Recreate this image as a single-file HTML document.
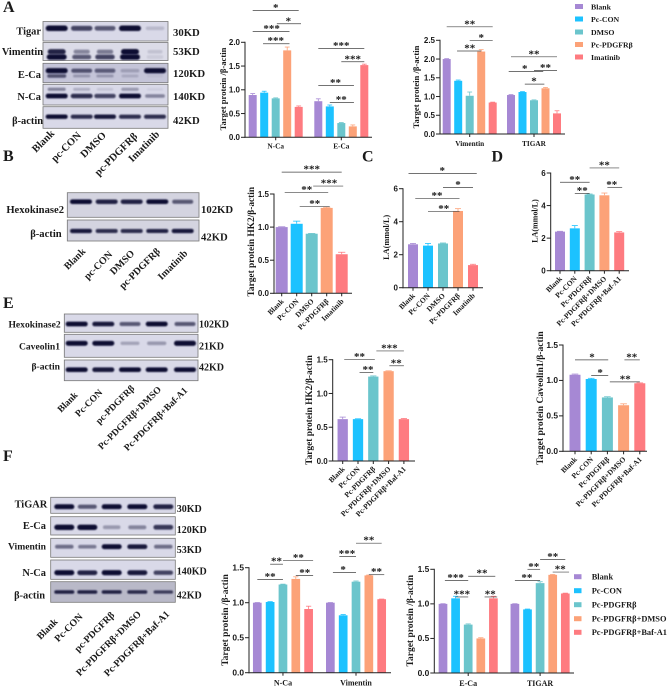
<!DOCTYPE html>
<html lang="en">
<head>
<meta charset="utf-8">
<title>Western blot and bar chart figure</title>
<style>
html,body{margin:0;padding:0;background:#fff;width:669px;height:687px;overflow:hidden}
svg{display:block;filter:blur(0.3px)}
text{font-family:"Liberation Serif","Noto Serif CJK SC",serif;font-weight:bold;fill:#1a1a1a}
.tick{font-family:"Liberation Sans",sans-serif}
</style>
</head>
<body>
<svg id="figure" xmlns="http://www.w3.org/2000/svg" width="669" height="687" viewBox="0 0 669 687">
<defs>
<filter id="soft" x="-20%" y="-80%" width="140%" height="260%"><feGaussianBlur stdDeviation="0.7"/></filter>
</defs>
</svg>
<script>
var barColors = ['#a688d4', '#1cc2ff', '#6bc5cc', '#fca278', '#fe7b80'];

// Panel A charts
var a1Groups = ['N-Ca', 'E-Ca'];
var a1Values = [0.89, 0.94, 0.82, 1.83, 0.64, 0.76, 0.65, 0.30, 0.23, 1.52];
var a1Errors = [0.03, 0.03, 0.01, 0.07, 0.02, 0.05, 0.03, 0.01, 0.03, 0.02];
var a1Ticks = [0, 0.5, 1, 1.5, 2];
var a1TickLabels = ['0.0', '0.5', '1.0', '1.5', '2.0'];
var a1Sig = [[0, 4, 2.67, '*', 2], [2.1, 4.2, 2.39, '*', 3.1], [0, 3.2, 2.23, '***', 1.65], [0.9, 3.2, 1.97, '***', 2],
  [5, 9, 1.87, '***', 7], [7, 9, 1.59, '***', 8], [5, 8.1, 1.09, '**', 6.5], [6, 8.1, 0.73, '**', 7]];

var a2Groups = ['Vimentin', 'TIGAR'];
var a2Values = [2.0, 1.42, 1.02, 2.2, 0.84, 1.04, 1.12, 0.9, 1.22, 0.55];
var a2Errors = [0.01, 0.02, 0.1, 0.05, 0.01, 0.01, 0.01, 0.01, 0.02, 0.07];
var a2Ticks = [0, 0.5, 1, 1.5, 2, 2.5];
var a2TickLabels = ['0.0', '0.5', '1.0', '1.5', '2.0', '2.5'];
var a2Sig = [[0, 4, 2.86, '**', 2], [2, 4, 2.5, '*', 3], [0.9, 3, 2.215, '**', 2], [5, 9, 2.06, '**', 7],
  [4.8, 7.8, 1.67, '*', 6.2], [7, 9, 1.69, '**', 8], [6.2, 7.9, 1.33, '*', 7]];

// Panel B chart
var bCategories = ['Blank', 'Pc-CON', 'DMSO', 'Pc-PDGFRβ', 'Imatinib'];
var bValues = [1.0, 1.05, 0.9, 1.29, 0.59];
var bErrors = [0.005, 0.04, 0.005, 0.01, 0.03];
var bTicks = [0, 0.5, 1, 1.5];
var bTickLabels = ['0.0', '0.5', '1.0', '1.5'];
var bSig = [[0, 4, 1.83, '***', 2], [2.1, 4.1, 1.62, '***', 3.15], [0.2, 3.1, 1.52, '**', 1.67], [1.2, 3.2, 1.31, '**', 2.2]];

// Panel C chart
var cCategories = ['Blank', 'Pc-CON', 'DMSO', 'Pc-PDGFRβ', 'Imatinib'];
var cValues = [2.63, 2.55, 2.68, 4.65, 1.37];
var cErrors = [0.05, 0.13, 0.03, 0.14, 0.05];
var cTicks = [0, 2, 4, 6];
var cTickLabels = ['0', '2', '4', '6'];
var cSig = [[-0.3, 4.25, 6.93, '*', 1.95], [2, 4, 6.08, '*', 3], [0.15, 3.1, 5.41, '**', 1.6], [1, 3.1, 4.63, '**', 2.05]];

// Panel D chart
var dCategories = ['Blank', 'Pc-CON', 'Pc-PDGFRβ', 'Pc-PDGFRβ+DMSO', 'Pc-PDGFRβ+Baf-A1'];
var dValues = [2.4, 2.6, 4.68, 4.63, 2.35];
var dErrors = [0.02, 0.17, 0.03, 0.14, 0.05];
var dTicks = [0, 2, 4, 6];
var dTickLabels = ['0', '2', '4', '6'];
var dSig = [[2, 4, 6.31, '**', 3], [0, 2, 5.43, '**', 1], [3.2, 4.2, 5.12, '**', 3.5], [1, 2, 4.75, '**', 1.5]];

// Panel E charts
var e1Categories = ['Blank', 'Pc-CON', 'Pc-PDGFRβ', 'Pc-PDGFRβ+DMSO', 'Pc-PDGFRβ+Baf-A1'];
var e1Values = [0.62, 0.62, 1.25, 1.33, 0.62];
var e1Errors = [0.03, 0.005, 0.01, 0.005, 0.01];
var e1Ticks = [0, 0.5, 1, 1.5];
var e1TickLabels = ['0.0', '0.5', '1.0', '1.5'];
var e1Sig = [[2.2, 4, 1.63, '***', 3.05], [0.1, 2.1, 1.5, '**', 1.1], [1.1, 2, 1.31, '**', 1.65], [3.05, 4, 1.41, '**', 3.5]];

var e2Categories = ['Blank', 'Pc-CON', 'Pc-PDGFRβ', 'Pc-PDGFRβ+DMSO', 'Pc-PDGFRβ+Baf-A1'];
var e2Values = [1.08, 1.02, 0.76, 0.65, 0.96];
var e2Errors = [0.01, 0.01, 0.01, 0.02, 0.005];
var e2Ticks = [0, 0.5, 1, 1.5];
var e2TickLabels = ['0.0', '0.5', '1.0', '1.5'];
var e2Sig = [[0, 2.05, 1.29, '*', 1.05], [3.05, 4, 1.29, '**', 3.5], [1, 2.05, 1.07, '*', 1.55], [2.15, 4, 0.98, '**', 3.1]];

// Panel F charts
var f1Groups = ['N-Ca', 'Vimentin'];
var f1Values = [1.0, 1.01, 1.26, 1.34, 0.91, 1.0, 0.82, 1.3, 1.39, 1.05];
var f1Errors = [0.002, 0.005, 0.005, 0.03, 0.04, 0.002, 0.01, 0.01, 0.005, 0.002];
var f1Ticks = [0, 0.5, 1, 1.5];
var f1TickLabels = ['0.0', '0.5', '1.0', '1.5'];
var f1Sig = [[1, 2, 1.55, '**', 1.5], [2, 4.35, 1.6, '**', 3.2], [0, 2, 1.33, '**', 1], [3, 4.35, 1.39, '**', 3.7],
  [7, 9, 1.85, '**', 8], [5.7, 7, 1.66, '***', 6.3], [5.2, 7, 1.43, '*', 6], [8, 9.2, 1.4, '**', 8.6]];

var f2Groups = ['E-Ca', 'TIGAR'];
var f2Values = [1.0, 1.08, 0.7, 0.5, 1.08, 1.0, 0.92, 1.3, 1.42, 1.15];
var f2Errors = [0.002, 0.03, 0.01, 0.01, 0.03, 0.002, 0.005, 0.02, 0.005, 0.005];
var f2Ticks = [0, 0.5, 1, 1.5];
var f2TickLabels = ['0.0', '0.5', '1.0', '1.5'];
var f2Sig = [[0.15, 2, 1.34, '***', 1], [2, 4.15, 1.4, '**', 3.1], [1, 2, 1.1, '***', 1.5], [3.3, 4.3, 1.1, '**', 3.75],
  [7, 9, 1.64, '**', 8], [6, 7, 1.5, '**', 6.5], [5, 7, 1.34, '**', 5.95], [8, 9.3, 1.46, '**', 8.6]];

var legendALabels = ['Blank', 'Pc-CON', 'DMSO', 'Pc-PDGFRβ', 'Imatinib'];
var legendFLabels = ['Blank', 'Pc-CON', 'Pc-PDGFRβ', 'Pc-PDGFRβ+DMSO', 'Pc-PDGFRβ+Baf-A1'];

var svg = document.getElementById('figure');
var NS = 'http://www.w3.org/2000/svg';

function make(tag, attrs, parent) {
  var el = document.createElementNS(NS, tag);
  for (var k in attrs) el.setAttribute(k, attrs[k]);
  (parent || svg).appendChild(el);
  return el;
}

function label(str, x, y, size, anchor, name, rot, cls, parent) {
  var el = make('text', {x: x, y: y, 'font-size': size, 'text-anchor': anchor || 'start'}, parent);
  if (cls) el.setAttribute('class', cls);
  if (rot) el.setAttribute('transform', 'rotate(' + rot + ' ' + x + ' ' + y + ')');
  el.textContent = str;
  
  
  return el;
}

function chart(c) {
  var g = make('g', {});
  
  
  var top = c.ticks[c.ticks.length - 1];
  function yScale(v) { return c.y0 - (c.y0 - c.yTop) * v / top; }
  function xScale(i) {
    var gap = (c.groupSize && i >= c.groupSize - 0.5) ? c.groupGap : 0;
    return c.first + c.pitch * i + gap;
  }
  c.values.forEach(function (v, i) {
    var cx = xScale(i), col = barColors[i % 5];
    var err = c.errors[i];
    var stem = make('line', {x1: cx, x2: cx, y1: yScale(v), y2: yScale(v + err), stroke: col, 'stroke-width': 0.8}, g);
    
    
    var cap = make('line', {x1: cx - c.barW * 0.3, x2: cx + c.barW * 0.3, y1: yScale(v + err), y2: yScale(v + err), stroke: col, 'stroke-width': 0.8}, g);
    
    
    var bar = make('rect', {x: cx - c.barW / 2, y: yScale(v), width: c.barW, height: c.y0 - yScale(v), fill: col}, g);
    
    
  });
  var yAxis = make('line', {x1: c.axisX, x2: c.axisX, y1: c.yTop - 0.5, y2: c.y0 + 0.5, stroke: '#222', 'stroke-width': 1}, g);
  
  
  var xAxis = make('line', {x1: c.axisX - 0.5, x2: c.axisEnd, y1: c.y0, y2: c.y0, stroke: '#222', 'stroke-width': 1}, g);
  
  
  c.ticks.forEach(function (t, i) {
    var tk = make('line', {x1: c.axisX - 4, x2: c.axisX, y1: yScale(t), y2: yScale(t), stroke: '#222', 'stroke-width': 1}, g);
    
    
    label(c.tickLabels[i], c.axisX - 5, yScale(t) + 2.8, c.tickSize || 8, 'end', 'y-tick-label', null, 'tick', g);
  });
  if (c.groups) {
    c.groups.forEach(function (name, i) {
      var cx = xScale(i * c.groupSize + (c.groupSize - 1) / 2);
      var tk = make('line', {x1: cx, x2: cx, y1: c.y0, y2: c.y0 + 3, stroke: '#222', 'stroke-width': 1}, g);
      
      
      label(name, cx, c.y0 + (c.groupDy || 11), c.groupSize2 || 7.3, 'middle', 'x-group-label', null, null, g);
    });
  } else {
    c.categories.forEach(function (name, i) {
      var cx = xScale(i);
      var tk = make('line', {x1: cx, x2: cx, y1: c.y0, y2: c.y0 + 3, stroke: '#222', 'stroke-width': 1}, g);
      
      
      label(name, cx + 2.5, c.y0 + 8.5, 7.5, 'end', 'x-category-label', -45, null, g);
    });
  }
  c.sig.forEach(function (s) {
    var ly = yScale(s[2]);
    var ln = make('line', {x1: xScale(s[0]), x2: xScale(s[1]), y1: ly, y2: ly, stroke: '#444', 'stroke-width': 0.7}, g);
    
    
    label(s[3], xScale(s[4]), ly + 0.5, 11, 'middle', 'significance-stars', null, null, g);
  });
  label(c.title, c.titleX, c.titleY, c.titleSize || 8.6, 'middle', 'y-axis-title', -90, null, g);
}

function legend(labels, swX, swW, swH, textX, rows, size, name) {
  var g = make('g', {});
  
  
  labels.forEach(function (t, i) {
    var sw = make('rect', {x: swX, y: rows[i] - swH / 2, width: swW, height: swH, fill: barColors[i]}, g);
    
    
    label(t, textX, rows[i] + 2.8, size, 'start', 'legend-entry', null, null, g);
  });
}

function blot(b) {
  var g = make('g', {});
  
  
  var bg = make('rect', {x: b.x, y: b.y, width: b.w, height: b.h, fill: b.bg || '#d9d9e8', stroke: '#777', 'stroke-width': 0.8}, g);
  
  
  b.rows.forEach(function (row) {
    row.s.forEach(function (strength, i) {
      var rw = (row.rx || 11) * (0.75 + 0.25 * Math.min(1, strength + 0.2));
      var rh = (row.ry || 1.9) * (0.7 + 0.5 * strength);
      var band = make('rect', {
        x: b.lanes[i] - rw, y: row.y - rh, width: 2 * rw, height: 2 * rh, rx: rh, ry: rh,
        fill: '#0a0a30', opacity: Math.min(1, strength * 1.05), filter: 'url(#soft)'
      }, g);
      
      
    });
  });
  label(b.label, b.labelX, b.labelY, b.labelSize || 10.4, 'end', 'protein-label', null, null, g);
  label(b.kd, b.kdX, b.kdY, b.kdSize || 10.7, 'start', 'molecular-weight-label', null, null, g);
}

function lanes(names, ends, size, name) {
  var g = make('g', {});
  
  
  names.forEach(function (t, i) {
    label(t, ends[i][0], ends[i][1] + 4, size, 'end', 'lane-label', -45, null, g);
  });
}

// Panel letters
label('A', 3, 12, 16, 'start', 'panel-a-letter');
label('B', 3, 161, 16, 'start', 'panel-b-letter');
label('C', 362, 161.5, 16, 'start', 'panel-c-letter');
label('D', 491.5, 161.5, 16, 'start', 'panel-d-letter');
label('E', 3, 308, 16, 'start', 'panel-e-letter');
label('F', 3, 461, 16, 'start', 'panel-f-letter');

// Blots — panel A
var laneA = [56.7, 81.7, 105, 130, 155];
blot({name: 'blot-a-tigar', x: 43, y: 21.5, w: 125, h: 19.5, lanes: laneA, rows: [{y: 28.3, rx: 11, ry: 2.3, s: [1, 0.7, 0.6, 1, 0.15]}], label: 'Tigar', labelX: 41, labelY: 34.5, kd: '30KD', kdX: 173, kdY: 36});
blot({name: 'blot-a-vimentin', x: 43, y: 42.5, w: 125, h: 18, lanes: laneA, bg: '#dcdce8', rows: [{y: 51.7, rx: 9, ry: 2.3, s: [0.85, 0.4, 0.45, 1, 0.12]}, {y: 57, rx: 10, ry: 2.3, s: [0.95, 0.6, 0.7, 1, 0.08]}], label: 'Vimentin', labelX: 43, labelY: 55, kd: '53KD', kdX: 173, kdY: 55});
blot({name: 'blot-a-e-ca', x: 43, y: 63.3, w: 125, h: 19.4, lanes: laneA, bg: '#c4c4d8', rows: [{y: 70.7, rx: 11, ry: 2.1, s: [1, 0.6, 0.55, 0.2, 1]}, {y: 76, rx: 10, ry: 1.7, s: [0.6, 0.25, 0.25, 0.15, 0.05]}], label: 'E-Ca', labelX: 41, labelY: 78, kd: '120KD', kdX: 173, kdY: 77});
blot({name: 'blot-a-n-ca', x: 43, y: 84.3, w: 125, h: 20.7, lanes: laneA, rows: [{y: 89.3, rx: 10, ry: 1.8, s: [0.4, 0.2, 0.1, 0.3, 0.05]}, {y: 96, rx: 11, ry: 2, s: [1, 0.8, 0.7, 1, 0.4]}], label: 'N-Ca', labelX: 41, labelY: 100, kd: '140KD', kdX: 173, kdY: 100});
blot({name: 'blot-a-actin', x: 43, y: 106.7, w: 125, h: 21.6, lanes: laneA, rows: [{y: 116.7, rx: 11, ry: 1.9, s: [0.95, 0.8, 0.9, 0.8, 0.8]}], label: 'β-actin', labelX: 43, labelY: 124, kd: '42KD', kdX: 173, kdY: 124});
lanes(['Blank', 'pc-CON', 'DMSO', 'pc-PDGFRβ', 'Imatinib'], [[55, 130], [81.7, 132], [106.7, 132], [138, 133], [160, 131]], 10.5, 'lane-labels-a');

// Blots — panel B
var laneB = [81, 106.7, 131.7, 157.3, 182.7];
blot({name: 'blot-b-hexokinase', x: 67.3, y: 192.7, w: 131.7, h: 24.6, lanes: laneB, bg: '#d4d4e0', rows: [{y: 201.7, rx: 11, ry: 2, s: [0.95, 0.85, 0.85, 0.95, 0.6]}], label: 'Hexokinase2', labelX: 64, labelY: 213, labelSize: 10.6, kd: '102KD', kdX: 201, kdY: 213});
blot({name: 'blot-b-actin', x: 67.3, y: 220, w: 131.7, h: 21, lanes: laneB, bg: '#d4d4e0', rows: [{y: 231, rx: 11, ry: 1.8, s: [0.9, 0.8, 0.8, 0.85, 0.9]}], label: 'β-actin', labelX: 61.7, labelY: 237, labelSize: 10.6, kd: '42KD', kdX: 201, kdY: 240.5});
lanes(['Blank', 'pc-CON', 'DMSO', 'pc-PDGFRβ', 'Imatinib'], [[86, 248], [113, 251], [135, 250], [160.7, 248], [188, 250]], 10, 'lane-labels-b');

// Blots — panel E
var laneE = [76.7, 103.3, 130, 156.7, 185];
blot({name: 'blot-e-hexokinase', x: 64.3, y: 314, w: 133.7, h: 18.3, lanes: laneE, rows: [{y: 324, rx: 11, ry: 2, s: [1, 0.9, 0.6, 0.95, 0.6]}], label: 'Hexokinase2', labelX: 60.7, labelY: 327.3, labelSize: 9.6, kd: '102KD', kdX: 199, kdY: 327.7, kdSize: 10});
blot({name: 'blot-e-caveolin', x: 64.3, y: 334.3, w: 133.7, h: 23, lanes: laneE, rows: [{y: 343.3, rx: 11, ry: 2.1, s: [0.95, 0.95, 0.25, 0.3, 1]}], label: 'Caveolin1', labelX: 60, labelY: 349.3, labelSize: 9.6, kd: '21KD', kdX: 199, kdY: 349.3, kdSize: 10});
blot({name: 'blot-e-actin', x: 64.3, y: 360, w: 133.7, h: 20.7, lanes: laneE, rows: [{y: 369.7, rx: 11, ry: 2, s: [0.95, 0.9, 0.95, 0.95, 0.95]}], label: 'β-actin', labelX: 60, labelY: 369.3, labelSize: 9.6, kd: '42KD', kdX: 199, kdY: 370.5, kdSize: 10});
lanes(['Blank', 'Pc-CON', 'pc-PDGFRβ', 'Pc-PDGFRβ+DMSO', 'Pc-PDGFRβ+Baf-A1'], [[78.3, 391.7], [103, 389], [135, 385], [161.7, 386], [188, 387]], 9.5, 'lane-labels-e');

// Blots — panel F
var laneF = [64.3, 87.3, 111.7, 137.3, 163.3];
blot({name: 'blot-f-tigar', x: 50.7, y: 497.3, w: 124.6, h: 16, lanes: laneF, rows: [{y: 506.7, rx: 10, ry: 2.1, s: [0.95, 0.6, 0.95, 0.95, 0.85]}], label: 'TiGAR', labelX: 47.3, labelY: 507.5, kd: '30KD', kdX: 176.7, kdY: 512, kdSize: 10});
blot({name: 'blot-f-e-ca', x: 50.7, y: 516.7, w: 124.6, h: 18.3, lanes: laneF, rows: [{y: 527.3, rx: 10, ry: 2.2, s: [1, 1, 0.3, 0.4, 0.75]}], label: 'E-Ca', labelX: 46, labelY: 529.2, kd: '120KD', kdX: 176.7, kdY: 533, kdSize: 10});
blot({name: 'blot-f-vimentin', x: 50.7, y: 538.3, w: 124.6, h: 19, lanes: laneF, rows: [{y: 546.7, rx: 10, ry: 2, s: [0.5, 0.45, 1, 0.9, 0.5]}], label: 'Vimentin', labelX: 46, labelY: 549.5, labelSize: 9.6, kd: '53KD', kdX: 176.7, kdY: 553, kdSize: 10});
blot({name: 'blot-f-n-ca', x: 50.7, y: 560, w: 124.6, h: 19.3, lanes: laneF, rows: [{y: 572.7, rx: 10, ry: 2.1, s: [1, 0.85, 1, 0.9, 0.7]}], label: 'N-Ca', labelX: 46, labelY: 575.8, kd: '140KD', kdX: 176.7, kdY: 574.3, kdSize: 10});
blot({name: 'blot-f-actin', x: 50.7, y: 581.7, w: 124.6, h: 20.6, lanes: laneF, bg: '#b9b9c8', rows: [{y: 592, rx: 10, ry: 1.6, s: [0.85, 0.85, 0.85, 0.8, 0.7]}], label: 'β-actin', labelX: 45, labelY: 598.5, kd: '42KD', kdX: 176.7, kdY: 598.3, kdSize: 10});
lanes(['Blank', 'Pc-CON', 'pc-PDGFRβ', 'Pc-PDGFRβ+DMSO', 'Pc-PDGFRβ+Baf-A1'], [[58.3, 618.3], [83.3, 613.3], [115, 611.7], [141.7, 610.7], [170, 610.7]], 9.8, 'lane-labels-f');

// Charts
chart({name: 'chart-a-nca-eca', values: a1Values, errors: a1Errors, groups: a1Groups, groupSize: 5, groupGap: 8.1, first: 252.7, pitch: 11.5, barW: 8, y0: 137.3, yTop: 42.3, axisX: 245, axisEnd: 372, ticks: a1Ticks, tickLabels: a1TickLabels, sig: a1Sig, title: 'Target protein /β-actin', titleX: 226, titleY: 89});
chart({name: 'chart-a-vimentin-tigar', values: a2Values, errors: a2Errors, groups: a2Groups, groupSize: 5, groupGap: 6.8, first: 446.7, pitch: 11.5, barW: 8, y0: 134, yTop: 40.3, axisX: 440, axisEnd: 565, groupDy: 12, ticks: a2Ticks, tickLabels: a2TickLabels, sig: a2Sig, title: 'Target protein /β-actin', titleX: 419, titleY: 87});
chart({name: 'chart-b-hk2', values: bValues, errors: bErrors, categories: bCategories, first: 281.7, pitch: 15, barW: 12, y0: 293.3, yTop: 194, axisX: 274, axisEnd: 352, ticks: bTicks, tickLabels: bTickLabels, sig: bSig, title: 'Target protein HK2/β-actin', titleX: 254, titleY: 241.7, titleSize: 9.4});
chart({name: 'chart-c-la', values: cValues, errors: cErrors, categories: cCategories, first: 413, pitch: 15, barW: 10, y0: 287.7, yTop: 188.7, axisX: 403, axisEnd: 483, ticks: cTicks, tickLabels: cTickLabels, sig: cSig, title: 'LA(mmol/L)', titleX: 389, titleY: 237.3, titleSize: 8.3});
chart({name: 'chart-d-la', values: dValues, errors: dErrors, categories: dCategories, first: 560, pitch: 14.8, barW: 10, y0: 270.7, yTop: 173, axisX: 550.7, axisEnd: 629, ticks: dTicks, tickLabels: dTickLabels, sig: dSig, title: 'LA(mmol/L)', titleX: 537.5, titleY: 221, titleSize: 8});
chart({name: 'chart-e-hk2', values: e1Values, errors: e1Errors, categories: e1Categories, first: 342.7, pitch: 15.3, barW: 10.3, y0: 461, yTop: 359.7, axisX: 332.7, axisEnd: 415, ticks: e1Ticks, tickLabels: e1TickLabels, sig: e1Sig, title: 'Target protein HK2/β-actin', titleX: 312, titleY: 410, titleSize: 9.4});
chart({name: 'chart-e-caveolin', values: e2Values, errors: e2Errors, categories: e2Categories, first: 575, pitch: 16.2, barW: 11, y0: 451.3, yTop: 345, axisX: 563, axisEnd: 647, ticks: e2Ticks, tickLabels: e2TickLabels, sig: e2Sig, title: 'Target protein Caveolin1/β-actin', titleX: 543, titleY: 398, titleSize: 9.6, tickSize: 8.4});
chart({name: 'chart-f-nca-vimentin', values: f1Values, errors: f1Errors, groups: f1Groups, groupSize: 5, groupGap: 8.9, first: 257.3, pitch: 12.83, barW: 8.7, y0: 672.7, yTop: 567.7, axisX: 249, axisEnd: 391, groupDy: 13, groupSize2: 8, ticks: f1Ticks, tickLabels: f1TickLabels, sig: f1Sig, title: 'Target protein /β-actin', titleX: 228, titleY: 620, titleSize: 9.5, tickSize: 8.4});
chart({name: 'chart-f-eca-tigar', values: f2Values, errors: f2Errors, groups: f2Groups, groupSize: 5, groupGap: 8.9, first: 443, pitch: 12.6, barW: 8.7, y0: 673, yTop: 569.3, axisX: 434.3, axisEnd: 574, groupDy: 13, groupSize2: 8, ticks: f2Ticks, tickLabels: f2TickLabels, sig: f2Sig, title: 'Target protein /β-actin', titleX: 413, titleY: 620.7, titleSize: 9.5, tickSize: 8.4});

legend(legendALabels, 575, 8, 5, 591, [6.5, 19, 32, 44.5, 57], 7.8, 'legend-a');
legend(legendFLabels, 574, 7.5, 5, 591.7, [576.7, 590.7, 604.7, 618.7, 632.3], 8.4, 'legend-f');
</script>
</body>
</html>
